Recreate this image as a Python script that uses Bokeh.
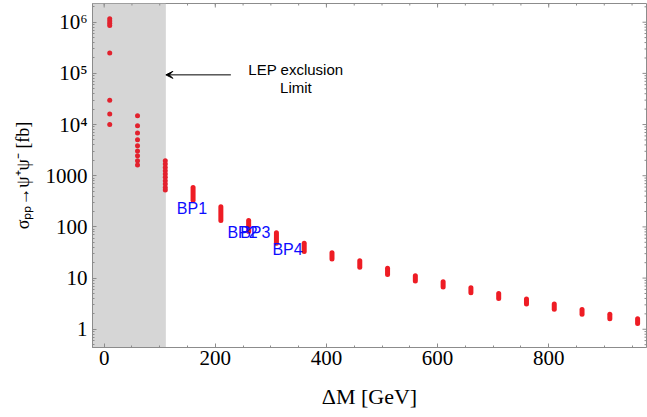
import math
from bokeh.plotting import figure
from bokeh.models import (Range1d, FixedTicker, BoxAnnotation,
                          Arrow, VeeHead, Label, ColumnDataSource)
from bokeh.core.properties import value
from bokeh.embed import file_html
from bokeh.resources import INLINE

# ---------------- data ----------------
# low mass splittings: individual points
mass_dots = [10, 10, 10, 10, 10, 10, 10, 10,
             60, 60, 60, 60, 60, 60, 60, 60, 60,
             110, 110, 110, 110, 110, 110, 110, 110, 110, 110]
sigma_dots = [1.17e6, 1.05e6, 0.95e6, 0.86e6, 2.5e5, 3.0e4, 1.6e4, 1.0e4,
              14900, 9500, 6850, 5070, 3870, 3040, 2460, 1960, 1620,
              1960, 1690, 1450, 1250, 1080, 930, 800, 690, 590, 525]

# higher mass splittings: dense scans -> vertical bands (min / max)
mass_bars = [160, 210, 260, 310, 360, 410, 460, 510, 560, 610,
             660, 710, 760, 810, 860, 910, 960]
sigma_bar_max = [588, 249, 133, 77, 47.7, 31.4, 21.9, 15.5, 11.1, 8.5,
                 6.49, 5.02, 3.88, 3.10, 2.44, 1.97, 1.60]
sigma_bar_min = [332, 133, 81, 47.7, 32.9, 23.5, 16.2, 11.8, 8.73, 6.66,
                 5.18, 4.01, 3.10, 2.47, 1.97, 1.60, 1.30]

bp_names = ["BP1", "BP2", "BP3", "BP4"]
bp_x = [158, 249, 272, 330]
bp_y = [232, 79, 79, 37]

x_ticks = [0, 200, 400, 600, 800]
x_minor = [50 * i for i in range(0, 20)]
y_ticks = [1, 10, 100, 1000, 1e4, 1e5, 1e6]
y_tick_labels = ["1", "10", "100", "1000", "10\u2074", "10\u2075", "10\u2076"]
y_minor = [m * 10 ** k for k in range(-1, 7) for m in range(2, 10)]

lep_limit = 111

X0, X1 = -21, 976
Y0, Y1 = 0.44, 2.32e6

# ---------------- figure ----------------
p = figure(width=647, height=417,
           x_range=Range1d(X0, X1), y_range=Range1d(Y0, Y1),
           y_axis_type="log", output_backend="svg", toolbar_location=None,
           min_border_left=92, min_border_right=1, min_border_top=3,
           min_border_bottom=70)
p.grid.visible = False
FRAME = "#8c8c8c"
p.outline_line_color = FRAME
p.outline_line_width = 1
p.background_fill_color = "white"
p.border_fill_color = "white"

SERIF = "Liberation Serif"


def style_axis(ax):
    ax.axis_line_color = FRAME
    ax.major_tick_line_color = FRAME
    ax.minor_tick_line_color = FRAME
    ax.major_tick_in = 4
    ax.major_tick_out = 0
    ax.minor_tick_in = 2
    ax.minor_tick_out = 0
    ax.major_label_text_font = SERIF
    ax.major_label_text_font_size = "21px"
    ax.major_label_text_color = "black"


p.xaxis.ticker = FixedTicker(ticks=x_ticks, minor_ticks=x_minor)
p.yaxis.ticker = FixedTicker(ticks=y_ticks, minor_ticks=y_minor)
p.yaxis.major_label_overrides = {float(t): s for t, s in zip(y_ticks, y_tick_labels)}
for ax in p.xaxis:
    style_axis(ax)
    ax.major_label_standoff = 3
    ax.axis_label = "\u0394M [GeV]"
    ax.axis_label_text_font = SERIF
    ax.axis_label_text_font_size = "22px"
    ax.axis_label_text_font_style = "normal"
    ax.axis_label_text_color = "black"
    ax.axis_label_standoff = 16
for ax in p.yaxis:
    style_axis(ax)
    ax.major_label_standoff = 5
    ax.axis_label = "\u03c3\u209a\u209a\u2192\u03c8\u207a\u03c8\u207b [fb]"
    ax.axis_label_text_font = SERIF
    ax.axis_label_text_font_size = "18px"
    ax.axis_label_text_font_style = "normal"
    ax.axis_label_text_color = "black"
    ax.axis_label_standoff = 10

# mirrored frame ticks on top and right edges (screen-length rays)
p.ray(x=x_ticks, y=[Y1] * len(x_ticks), length=4, angle=-math.pi / 2,
      length_units="screen", line_color=FRAME, line_width=1)
p.ray(x=x_minor, y=[Y1] * len(x_minor), length=2, angle=-math.pi / 2,
      length_units="screen", line_color=FRAME, line_width=1)
p.ray(x=[X1] * len(y_ticks), y=y_ticks, length=4, angle=math.pi,
      length_units="screen", line_color=FRAME, line_width=1)
p.ray(x=[X1] * len(y_minor), y=y_minor, length=2, angle=math.pi,
      length_units="screen", line_color=FRAME, line_width=1)

# LEP excluded region
p.add_layout(BoxAnnotation(right=lep_limit, fill_color="#d6d6d6", fill_alpha=1.0,
                           line_color=None, level="underlay"))

RED = "#ee1c24"
p.segment(x0=mass_bars, y0=sigma_bar_min, x1=mass_bars, y1=sigma_bar_max,
          line_color=RED, line_width=5, line_cap="round")
p.scatter(x=mass_dots, y=sigma_dots, size=5, fill_color="#e2222e",
          line_color=None)

bp_src = ColumnDataSource(dict(x=bp_x, y=bp_y, t=bp_names))
p.text(x="x", y="y", text="t", source=bp_src, text_color="#0d0dff",
       text_font=value("Liberation Sans"), text_font_size="16px",
       text_align="center", text_baseline="alphabetic")

# arrow + annotation
p.add_layout(Arrow(x_start=228, y_start=93500, x_end=lep_limit, y_end=93500,
                   line_color="black", line_width=1,
                   end=VeeHead(size=7, fill_color="black", line_color="black")))
p.add_layout(Label(x=345, y=81600, text="LEP exclusion", text_align="center",
                   text_font="Liberation Sans", text_font_size="15px",
                   text_color="black"))
p.add_layout(Label(x=345, y=36800, text="Limit", text_align="center",
                   text_font="Liberation Sans", text_font_size="15px",
                   text_color="black"))

open("out.html", "w").write(file_html(p, INLINE))
